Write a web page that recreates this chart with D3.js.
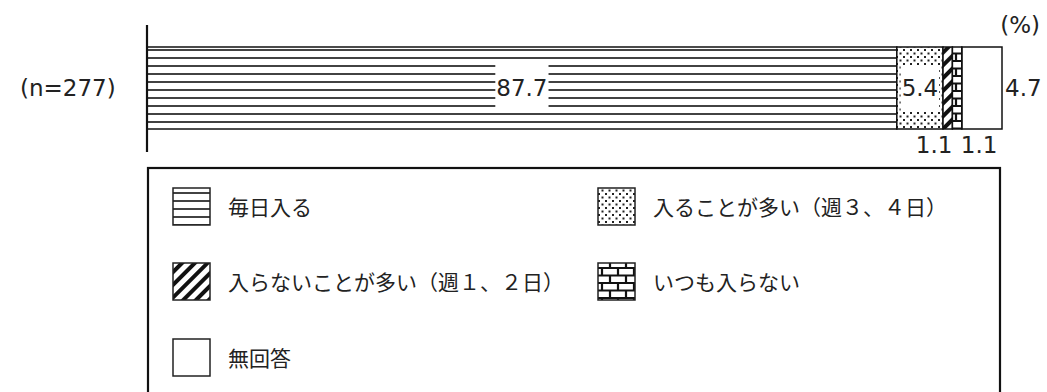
<!DOCTYPE html>
<html>
<head>
<meta charset="utf-8">
<script src="https://cdn.jsdelivr.net/npm/d3@7"></script>
<style>
	body { margin: 0; background: #fff; }
	svg { display: block; }
	.num { font-family: "DejaVu Sans", Verdana, sans-serif; font-size: 23px; fill: #222; }
	.jp { font-family: "Noto Sans CJK JP", sans-serif; font-size: 21px; fill: #222; }
</style>
</head>
<body>
<svg id="chart" width="1047" height="392"></svg>
<script>
// chart data
var categories = ['毎日入る', '入ることが多い（週３、４日）', '入らないことが多い（週１、２日）', 'いつも入らない', '無回答'];
var values = [87.7, 5.4, 1.1, 1.1, 4.7];
var sampleLabel = '(n=277)';
var unitLabel = '(%)';
var patternIds = ['p-hline', 'p-dots', 'p-diag', 'p-brick', 'p-none'];

var svg = d3.select('#chart');
var defs = svg.append('defs');

// patterns
function makePatterns() {
	var p = defs.append('pattern').attr('id', 'p-hline')
		.attr('patternUnits', 'userSpaceOnUse').attr('width', 8).attr('height', 8);
	p.append('rect').attr('width', 8).attr('height', 8).attr('fill', '#fff');
	p.append('line').attr('x1', 0).attr('x2', 8).attr('y1', 2).attr('y2', 2)
		.attr('stroke', '#111').attr('stroke-width', 1.6);

	p = defs.append('pattern').attr('id', 'p-dots')
		.attr('patternUnits', 'userSpaceOnUse').attr('width', 7).attr('height', 7);
	p.append('rect').attr('width', 7).attr('height', 7).attr('fill', '#fff');
	p.append('rect').attr('x', 0).attr('y', 0).attr('width', 2).attr('height', 2).attr('fill', '#222');
	p.append('rect').attr('x', 3.5).attr('y', 3.5).attr('width', 2).attr('height', 2).attr('fill', '#222');

	p = defs.append('pattern').attr('id', 'p-diag')
		.attr('patternUnits', 'userSpaceOnUse').attr('width', 9).attr('height', 9)
		.attr('patternTransform', 'rotate(45)');
	p.append('rect').attr('width', 9).attr('height', 9).attr('fill', '#fff');
	p.append('rect').attr('x', 0).attr('y', 0).attr('width', 4).attr('height', 9).attr('fill', '#111');

	p = defs.append('pattern').attr('id', 'p-brick')
		.attr('patternUnits', 'userSpaceOnUse').attr('width', 16).attr('height', 15);
	p.append('rect').attr('width', 16).attr('height', 15).attr('fill', '#fff');
	p.append('path')
		.attr('d', 'M0 1H16M0 8.5H16M4 0V8.5M12 8.5V15')
		.attr('stroke', '#111').attr('stroke-width', 2.2).attr('fill', 'none');
}
makePatterns();

// layout
var barLeft = 147, barRight = 1002, barTop = 47, barBottom = 129;
var x = d3.scaleLinear().domain([0, 100]).range([barLeft, barRight]);

var cum = 0;
var segs = values.map(function(v, i) {
	var s = { value: v, start: cum, end: cum + v, pattern: patternIds[i] };
	cum += v;
	return s;
});

var bar = svg.append('g');
bar.selectAll('rect.seg').data(segs).enter().append('rect')
	.attr('class', 'seg')
	.attr('x', function(d) { return x(d.start); })
	.attr('y', barTop)
	.attr('width', function(d) { return x(d.end) - x(d.start); })
	.attr('height', barBottom - barTop)
	.attr('fill', function(d) { return 'url(#' + d.pattern + ')'; })
	.attr('stroke', '#111')
	.attr('stroke-width', 1.5);

// axis line
svg.append('line')
	.attr('x1', barLeft).attr('x2', barLeft)
	.attr('y1', 25).attr('y2', 152)
	.attr('stroke', '#111').attr('stroke-width', 2.2);

var midY = (barTop + barBottom) / 2;

// labels inside the bar (with white background)
function insideLabel(d) {
	var cx = (x(d.start) + x(d.end)) / 2;
	var t = svg.append('text').attr('class', 'num')
		.attr('x', cx).attr('y', midY).attr('dy', '0.36em')
		.attr('text-anchor', 'middle').text(d.value.toFixed(1));
	var bb = t.node().getBBox();
	svg.insert('rect', function() { return t.node(); })
		.attr('x', bb.x - 1).attr('y', barTop + 18)
		.attr('width', bb.width + 2).attr('height', barBottom - barTop - 36)
		.attr('fill', '#fff');
}
insideLabel(segs[0]);
insideLabel(segs[1]);

// small segments labelled below the bar
svg.append('text').attr('class', 'num')
	.attr('x', x(segs[2].end)).attr('y', 153)
	.attr('text-anchor', 'end').text(segs[2].value.toFixed(1));
svg.append('text').attr('class', 'num')
	.attr('x', x(segs[3].end) - 1).attr('y', 153)
	.attr('text-anchor', 'start').text(segs[3].value.toFixed(1));

// last segment to the right
svg.append('text').attr('class', 'num')
	.attr('x', x(segs[4].end) + 3).attr('y', midY).attr('dy', '0.36em')
	.attr('text-anchor', 'start').text(segs[4].value.toFixed(1));

svg.append('text').attr('class', 'num')
	.attr('x', 20).attr('y', midY).attr('dy', '0.36em')
	.text(sampleLabel);

svg.append('text').attr('class', 'num')
	.attr('x', 1040).attr('y', 25).attr('dy', '0.36em')
	.attr('text-anchor', 'end').text(unitLabel);

// legend
var legend = svg.append('g');
legend.append('rect')
	.attr('x', 148).attr('y', 168)
	.attr('width', 852).attr('height', 260)
	.attr('fill', 'none').attr('stroke', '#111').attr('stroke-width', 2.2);

var legendPos = [
	{ x: 173, y: 207 }, { x: 598, y: 207 },
	{ x: 173, y: 282 }, { x: 598, y: 282 },
	{ x: 173, y: 358 }
];

var items = legend.selectAll('g.item').data(categories).enter().append('g')
	.attr('class', 'item')
	.attr('transform', function(d, i) {
		return 'translate(' + legendPos[i].x + ',' + legendPos[i].y + ')';
	});

items.append('rect')
	.attr('x', 0).attr('y', -19)
	.attr('width', 37).attr('height', 37)
	.attr('fill', function(d, i) { return 'url(#' + patternIds[i] + ')'; })
	.attr('stroke', '#222').attr('stroke-width', 1.5);

items.append('text').attr('class', 'jp')
	.attr('x', 55).attr('y', 0).attr('dy', '0.36em')
	.text(function(d) { return d; });
</script>
</body>
</html>
